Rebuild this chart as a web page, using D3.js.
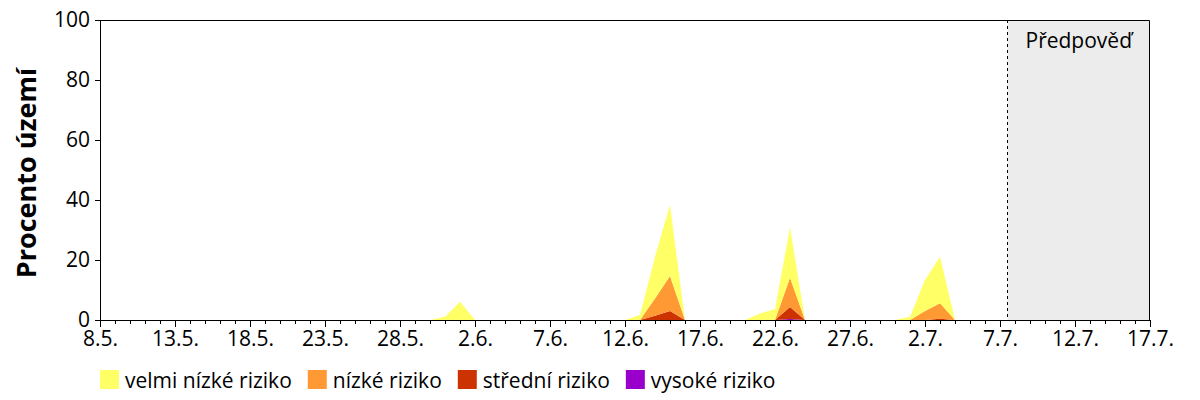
<!DOCTYPE html>
<html><head><meta charset="utf-8">
<script src="https://cdn.jsdelivr.net/npm/d3@7"></script>
<style>
html,body{margin:0;padding:0;background:#fff;}
svg{display:block;font-family:"Open Sans",sans-serif;}
</style></head>
<body><svg id="c" width="1200" height="400"></svg>
<script>
// ---- data ----
const startDay = "8.5.2015";          // first observed day
const endDay = "17.7.2015";           // end of x axis
const forecastStart = "7.7.2015 12";  // start of forecast band
const categories = ["velmi nízké riziko","nízké riziko","střední riziko","vysoké riziko"];
const colors = ["#ffff66","#ff9933","#cc3300","#9900cc"];
// daily values (%) from 8.5. to 7.7. (61 days)
const veryLow = [0,0,0,0,0,0,0,0,0,0, 0,0,0,0,0,0,0,0,0,0, 0,0,0,1.1,6.1,0,0,0,0,0, 0,0,0,0,0,0,1.7,13.8,23.6,0, 0,0,0,0,2.2,3.6,16.8,0,0,0, 0,0,0,0,1.1,10.3,15.5,0,0,0, 0];
const low     = [0,0,0,0,0,0,0,0,0,0, 0,0,0,0,0,0,0,0,0,0, 0,0,0,0,0,0,0,0,0,0, 0,0,0,0,0,0,0,5.8,11.7,0, 0,0,0,0,0,0,9.8,0,0,0, 0,0,0,0,0,3.0,5.2,0,0,0, 0];
const medium  = [0,0,0,0,0,0,0,0,0,0, 0,0,0,0,0,0,0,0,0,0, 0,0,0,0,0,0,0,0,0,0, 0,0,0,0,0,0,0,1.4,3.0,0, 0,0,0,0,0,0,4.0,0,0,0, 0,0,0,0,0,0,0.4,0,0,0, 0];
const high    = [0,0,0,0,0,0,0,0,0,0, 0,0,0,0,0,0,0,0,0,0, 0,0,0,0,0,0,0,0,0,0, 0,0,0,0,0,0,0,0,0,0, 0,0,0,0,0,0,0.3,0,0,0, 0,0,0,0,0,0,0,0,0,0, 0];
const xTickLabels = ["8.5.","13.5.","18.5.","23.5.","28.5.","2.6.","7.6.","12.6.","17.6.","22.6.","27.6.","2.7.","7.7.","12.7.","17.7."];
const yTicks = [0,20,40,60,80,100];
const yTitle = "Procento území";
const forecastLabel = "Předpověď";

// ---- chart ----
const svg = d3.select("#c");
const M = {l:100, r:1150, t:20, b:320};
const FS = 21;
const parse = d3.timeParse("%d.%m.%Y");
const parseH = d3.timeParse("%d.%m.%Y %H");
const t0 = parse(startDay), t1 = parse(endDay);
const x = d3.scaleTime().domain([t0,t1]).range([M.l,M.r]);
const y = d3.scaleLinear().domain([0,100]).range([M.b,M.t]);

const series = [veryLow, low, medium, high];
const rows = veryLow.map((_,i)=>{
  const o = {date: d3.timeDay.offset(t0,i)};
  series.forEach((s,k)=>o[k]=s[i]);
  return o;
});
// highest risk at the bottom, very low risk on top
const stacked = d3.stack().keys([3,2,1,0])(rows);

// forecast band
const fx = x(parseH(forecastStart));
svg.append("rect").attr("x",fx).attr("y",M.t).attr("width",M.r-fx).attr("height",M.b-M.t).attr("fill","#ececec");

const area = d3.area().x(d=>x(d.data.date)).y0(d=>y(d[0])).y1(d=>y(d[1]));
svg.append("g").selectAll("path").data(stacked).join("path")
  .attr("d",area).attr("fill",d=>colors[d.key]);

svg.append("line").attr("x1",fx).attr("x2",fx).attr("y1",M.t).attr("y2",M.b)
  .attr("stroke","#000").attr("stroke-dasharray","3,3").attr("stroke-width",1);

svg.append("text").attr("x",(fx+M.r)/2).attr("y",48).attr("text-anchor","middle")
  .attr("font-size",FS).text(forecastLabel);

// frame top/right
svg.append("path").attr("d",`M${M.l},${M.t+0.5}H${M.r-0.5}V${M.b}`).attr("fill","none").attr("stroke","#000");

// minor x ticks
const dayTicks = d3.timeDay.range(t0, d3.timeDay.offset(t1,1));
svg.append("g").attr("transform",`translate(0,${M.b})`)
  .call(d3.axisBottom(x).tickValues(dayTicks).tickSize(4).tickSizeOuter(0).tickFormat(""))
  .call(g=>g.select(".domain").remove());

// major x axis
const majors = xTickLabels.map(s=>parse(s+"2015"));
const gx = svg.append("g").attr("transform",`translate(0,${M.b})`)
  .call(d3.axisBottom(x).tickValues(majors).tickSize(7).tickSizeOuter(0).tickPadding(4)
    .tickFormat((d,i)=>xTickLabels[i]));
gx.selectAll("text").attr("font-size",FS).attr("fill","#000").attr("font-family","Open Sans");

const gy = svg.append("g").attr("transform",`translate(${M.l},0)`)
  .call(d3.axisLeft(y).tickValues(yTicks).tickSize(5).tickSizeOuter(0).tickPadding(5));
gy.selectAll("text").attr("font-size",FS).attr("fill","#000").attr("font-family","Open Sans");
svg.selectAll(".domain, .tick line").attr("stroke","#000");

svg.append("text").attr("transform","translate(36,173) rotate(-90)")
  .attr("text-anchor","middle").attr("font-size",27).attr("font-weight","bold").text(yTitle);

// legend
const lg = svg.append("g");
let lx = 100;
categories.forEach((c,i)=>{
  lg.append("rect").attr("x",lx).attr("y",370).attr("width",19).attr("height",19).attr("fill",colors[i]);
  const t = lg.append("text").attr("x",lx+25).attr("y",388).attr("font-size",FS).text(c);
  lx += 25 + t.node().getComputedTextLength() + 16;
});
</script></body></html>
